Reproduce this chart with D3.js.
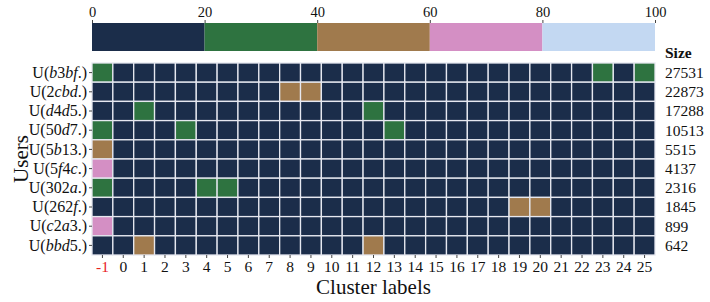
<!DOCTYPE html>
<html>
<head>
<meta charset="utf-8">
<script src="https://cdnjs.cloudflare.com/ajax/libs/d3/7.8.5/d3.min.js"></script>
<style>
	body { margin: 0; background: #fff; }
	svg text { font-family: "Liberation Serif", "DejaVu Serif", serif; fill: #111; }
	.axis path.domain { display: none; }
	.axis line { stroke: #444; }
</style>
</head>
<body>
<svg id="chart" width="710" height="302"></svg>
<script>
// DATA
var clusters = [-1, 0, 1, 2, 3, 4, 5, 6, 7, 8, 9, 10, 11, 12, 13, 14, 15, 16, 17, 18, 19, 20, 21, 22, 23, 24, 25];
var users = ['b3bf.', '2cbd.', 'd4d5.', '50d7.', '5b13.', '5f4c.', '302a.', '262f.', 'c2a3.', 'bbd5.'];
var sizes = [27531, 22873, 17288, 10513, 5515, 4137, 2316, 1845, 899, 642];
var colorTicks = [0, 20, 40, 60, 80, 100];
var colorBands = ['#1b2d4a', '#2e7340', '#a07a4d', '#d48fc4', '#c3d8f2'];

// one row per user, one value (0-100) per cluster label
var rowB3bf = [30, 0, 0, 0, 0, 0, 0, 0, 0, 0, 0, 0, 0, 0, 0, 0, 0, 0, 0, 0, 0, 0, 0, 0, 30, 0, 30];
var row2cbd = [0, 0, 0, 0, 0, 0, 0, 0, 0, 50, 50, 0, 0, 0, 0, 0, 0, 0, 0, 0, 0, 0, 0, 0, 0, 0, 0];
var rowD4d5 = [0, 0, 30, 0, 0, 0, 0, 0, 0, 0, 0, 0, 0, 30, 0, 0, 0, 0, 0, 0, 0, 0, 0, 0, 0, 0, 0];
var row50d7 = [30, 0, 0, 0, 30, 0, 0, 0, 0, 0, 0, 0, 0, 0, 30, 0, 0, 0, 0, 0, 0, 0, 0, 0, 0, 0, 0];
var row5b13 = [50, 0, 0, 0, 0, 0, 0, 0, 0, 0, 0, 0, 0, 0, 0, 0, 0, 0, 0, 0, 0, 0, 0, 0, 0, 0, 0];
var row5f4c = [70, 0, 0, 0, 0, 0, 0, 0, 0, 0, 0, 0, 0, 0, 0, 0, 0, 0, 0, 0, 0, 0, 0, 0, 0, 0, 0];
var row302a = [30, 0, 0, 0, 0, 30, 30, 0, 0, 0, 0, 0, 0, 0, 0, 0, 0, 0, 0, 0, 0, 0, 0, 0, 0, 0, 0];
var row262f = [0, 0, 0, 0, 0, 0, 0, 0, 0, 0, 0, 0, 0, 0, 0, 0, 0, 0, 0, 0, 50, 50, 0, 0, 0, 0, 0];
var rowC2a3 = [70, 0, 0, 0, 0, 0, 0, 0, 0, 0, 0, 0, 0, 0, 0, 0, 0, 0, 0, 0, 0, 0, 0, 0, 0, 0, 0];
var rowBbd5 = [0, 0, 50, 0, 0, 0, 0, 0, 0, 0, 0, 0, 0, 50, 0, 0, 0, 0, 0, 0, 0, 0, 0, 0, 0, 0, 0];
var rows = [rowB3bf, row2cbd, rowD4d5, row50d7, row5b13, row5f4c, row302a, row262f, rowC2a3, rowBbd5];

(function() {
	var svg = d3.select('#chart');
	var left = 92, right = 655;
	var top = 63, bottom = 255;
	var serif = '"Liberation Serif", serif';

	var x = d3.scaleBand().domain(clusters).range([left, right]);
	var y = d3.scaleBand().domain(users).range([top, bottom]);
	var color = d3.scaleThreshold().domain([20, 40, 60, 80]).range(colorBands);
	var cb = d3.scaleLinear().domain([0, 100]).range([left, right]);

	// COLOR BAR
	var bands = colorBands.map(function(c, i) { return { lo: colorTicks[i], hi: colorTicks[i + 1], c: c }; });
	svg.append('g').selectAll('rect')
		.data(bands)
		.enter().append('rect')
		.attr('x', function(d) { return cb(d.lo); })
		.attr('width', function(d) { return cb(d.hi) - cb(d.lo); })
		.attr('y', 23)
		.attr('height', 28)
		.attr('fill', function(d) { return d.c; });

	var cbAxis = svg.append('g')
		.attr('class', 'axis')
		.attr('transform', 'translate(0,23)')
		.call(d3.axisTop(cb).tickValues(colorTicks).tickSize(3).tickPadding(3));
	cbAxis.selectAll('text').style('font-size', '14.5px').style('font-family', serif);

	// HEATMAP
	var cells = [];
	rows.forEach(function(r, i) {
		r.forEach(function(v, j) {
			cells.push({ user: users[i], cluster: clusters[j], value: v });
		});
	});

	svg.append('g').selectAll('rect')
		.data(cells)
		.enter().append('rect')
		.attr('x', function(d) { return x(d.cluster); })
		.attr('y', function(d) { return y(d.user); })
		.attr('width', x.bandwidth())
		.attr('height', y.bandwidth())
		.attr('fill', function(d) { return color(d.value); })
		.attr('stroke', '#e6e8f0')
		.attr('stroke-width', 1.3);

	// x axis
	var xAxis = svg.append('g')
		.attr('class', 'axis')
		.attr('transform', 'translate(0,' + bottom + ')')
		.call(d3.axisBottom(x).tickSize(3).tickPadding(3));
	xAxis.selectAll('text')
		.style('font-size', '15.5px')
		.style('font-family', serif)
		.style('fill', function(d) { return d === -1 ? '#e8231f' : '#111'; });

	// y axis, letters italic like math mode
	var yAxis = svg.append('g')
		.attr('class', 'axis')
		.attr('transform', 'translate(' + left + ',0)')
		.call(d3.axisLeft(y).tickSize(3).tickPadding(2));
	yAxis.selectAll('text').each(function(d) {
		var t = d3.select(this).text('').style('font-size', '16px').style('font-family', serif);
		t.append('tspan').text('U(');
		d.split('').forEach(function(ch) {
			t.append('tspan')
				.style('font-style', /[a-z]/.test(ch) ? 'italic' : 'normal')
				.text(ch);
		});
		t.append('tspan').text(')');
	});

	// size column
	svg.append('text')
		.attr('x', 665).attr('y', 58)
		.style('font-size', '15.5px').style('font-weight', 'bold')
		.text('Size');
	svg.append('g').selectAll('text')
		.data(sizes)
		.enter().append('text')
		.attr('x', 665)
		.attr('y', function(d, i) { return y(users[i]) + y.bandwidth() / 2; })
		.attr('dy', '0.35em')
		.style('font-size', '15.5px')
		.text(function(d) { return d; });

	// titles
	svg.append('text')
		.attr('x', (left + right) / 2).attr('y', 294)
		.attr('text-anchor', 'middle')
		.style('font-size', '21px')
		.text('Cluster labels');
	svg.append('text')
		.attr('transform', 'translate(28,' + ((top + bottom) / 2) + ') rotate(-90)')
		.attr('text-anchor', 'middle')
		.style('font-size', '21px')
		.text('Users');
})();
</script>
</body>
</html>
